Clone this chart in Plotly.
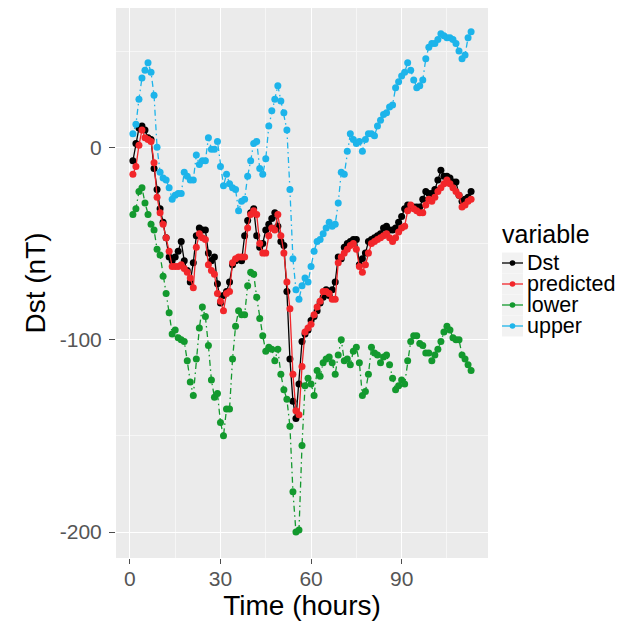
import plotly.graph_objects as go

hours = list(range(1, 114))

dst = [-7, 2, 10, 11, 9, 5, 4, -11, -22, -32,
       -39, -47, -57, -59, -57, -54, -49, -59, -64, -70,
       -60, -46, -42, -43, -43, -55, -59, -57, -71, -81,
       -77, -75, -70, -61, -59, -58, -59, -46, -38, -34,
       -32, -46, -52, -50, -43, -40, -37, -34, -41, -49,
       -51, -75, -110, -132, -141, -123, -101, -97, -95, -90,
       -88, -85, -81, -78, -74, -77, -74, -70, -57, -58,
       -52, -50, -49, -48, -48, -61, -58, -55, -49, -48,
       -47, -46, -45, -42, -41, -43, -43, -42, -39, -36,
       -32, -30, -31, -31, -31, -31, -27, -23, -24, -24,
       -22, -17, -12, -15, -15, -16, -18, -18, -25, -28,
       -27, -26, -23]

predicted = [-14, -10, 1, 9, 5, 4, 3, -8, -26, -34,
             -40, -47, -54, -62, -62, -62, -61, -63, -65, -68,
             -73, -52, -45, -47, -48, -61, -64, -66, -76, -80,
             -85, -76, -75, -60, -58, -57, -57, -57, -42, -35,
             -33, -35, -50, -55, -55, -46, -42, -43, -35, -46,
             -55, -70, -84, -118, -137, -139, -114, -96, -94, -92,
             -87, -83, -80, -75, -75, -76, -79, -79, -60, -57,
             -55, -53, -51, -50, -53, -62, -65, -61, -55, -50,
             -49, -48, -47, -46, -45, -47, -49, -47, -44, -42,
             -41, -33, -30, -32, -33, -34, -34, -30, -27, -28,
             -26, -23, -21, -19, -17, -19, -21, -23, -25, -31,
             -30, -28, -27]

lower = [-35, -32, -23, -21, -29, -35, -40, -43, -53, -56,
         -67, -76, -86, -97, -95, -99, -100, -101, -111, -122,
         -129, -110, -94, -83, -88, -103, -121, -130, -128, -143,
         -150, -136, -136, -110, -93, -85, -87, -87, -72, -65,
         -66, -78, -89, -98, -106, -104, -105, -111, -105, -118,
         -126, -131, -145, -179, -200, -199, -155, -124, -120, -123,
         -129, -116, -119, -112, -110, -109, -112, -118, -108, -100,
         -111, -110, -113, -106, -104, -112, -129, -127, -118, -104,
         -107, -108, -112, -109, -108, -113, -120, -126, -124, -121,
         -123, -111, -101, -98, -98, -102, -103, -107, -107, -111,
         -108, -105, -101, -96, -93, -95, -99, -100, -100, -108,
         -110, -113, -116]

upper = [7, 12, 25, 36, 40, 44, 39, 27, 0, -13,
         -16, -17, -21, -27, -25, -24, -24, -13, -15, -17,
         -17, -4, -9, -7, -7, 5, -1, -1, 3, -10,
         -20, -14, -19, -21, -22, -33, -28, -27, -15, -7,
         2, 3, -11, -14, -6, 11, 19, 25, 32, 24,
         18, 9, -22, -58, -74, -79, -72, -68, -70, -62,
         -54, -49, -48, -45, -42, -39, -41, -40, -29, -13,
         -14, -2, 7, 4, 2, 3, -2, 4, 7, 7,
         6, 11, 14, 17, 18, 21, 22, 31, 34, 37,
         39, 44, 40, 35, 31, 32, 35, 46, 52, 54,
         54, 56, 59, 58, 57, 57, 56, 54, 50, 46,
         48, 57, 60]

series_names = ["Dst", "predicted", "lower", "upper"]
series_values = [dst, predicted, lower, upper]
series_colors = ["#000000", "#F2262A", "#13992E", "#1DB4EA"]
series_dash = ["solid", "solid", "1.5px,3.5px,6px,3.5px", "1.5px,3.5px,6px,3.5px"]

x_ticks = [0, 30, 60, 90]
y_ticks = [-200, -100, 0]
legend_title = "variable"

# ---- layout geometry ----
# the page body has an 8px default margin, so the figure is drawn 8px in
PAGE_OFF = 8
W, H = 615, 621
ML, MT = 116 - PAGE_OFF, 8 - PAGE_OFF
PW, PH = 372, 550
MR, MB = W - ML - PW, H - MT - PH


def px_x(p):
    """screen pixel x -> paper coordinate"""
    return (p - PAGE_OFF - ML) / PW


def px_y(p):
    """screen pixel y -> paper coordinate"""
    return (MT + PH - (p - PAGE_OFF)) / PH


fig = go.Figure()
for name, vals, col, dash in zip(series_names, series_values, series_colors, series_dash):
    fig.add_trace(go.Scatter(
        x=hours, y=vals, name=name, mode="lines+markers",
        line=dict(color=col, width=1.3, dash=dash),
        marker=dict(color=col, size=7),
        showlegend=False,
    ))

font_family = "Liberation Sans, Arial, Helvetica, sans-serif"

# ---- ggplot-style legend ----
shapes = []
annotations = []
annotations.append(dict(
    text=legend_title, xref="paper", yref="paper",
    x=px_x(500), y=px_y(234), xanchor="left", yanchor="middle",
    showarrow=False, font=dict(size=25, color="#000000", family=font_family),
))
key_left, key_right = 502, 523
row_y0, row_step = 263, 21
for i, (name, col) in enumerate(zip(series_names, series_colors)):
    cy = row_y0 + i * row_step
    shapes.append(dict(type="rect", xref="paper", yref="paper",
                       x0=px_x(key_left), x1=px_x(key_right),
                       y0=px_y(cy - 10.5), y1=px_y(cy + 10.5),
                       fillcolor="#F2F2F2", line=dict(width=0), layer="below"))
    shapes.append(dict(type="line", xref="paper", yref="paper",
                       x0=px_x(key_left), x1=px_x(key_right),
                       y0=px_y(cy), y1=px_y(cy),
                       line=dict(color=col, width=1.3)))
    cx = (key_left + key_right) / 2
    r = 2.8
    shapes.append(dict(type="circle", xref="paper", yref="paper",
                       x0=px_x(cx - r), x1=px_x(cx + r),
                       y0=px_y(cy + r), y1=px_y(cy - r),
                       fillcolor=col, line=dict(color=col, width=0)))
    annotations.append(dict(
        text=name, xref="paper", yref="paper",
        x=px_x(525), y=px_y(cy), xanchor="left", yanchor="middle",
        showarrow=False, font=dict(size=21.5, color="#000000", family=font_family),
    ))

fig.update_layout(
    width=W, height=H,
    margin=dict(l=ML, r=MR, t=MT, b=MB, pad=0, autoexpand=False),
    paper_bgcolor="white",
    plot_bgcolor="#EBEBEB",
    font=dict(family=font_family, color="#000000"),
    showlegend=False,
    shapes=shapes,
    annotations=annotations,
)

fig.update_xaxes(
    range=[-4.6, 118.6], automargin=False,
    tickvals=x_ticks, ticktext=[str(v) for v in x_ticks],
    showgrid=True, gridcolor="#FFFFFF", gridwidth=1.3,
    minor=dict(dtick=15, tick0=0, showgrid=True, gridcolor="#F6F6F6", gridwidth=0.7),
    zeroline=False, showline=False,
    ticks="outside", ticklen=5, tickwidth=1, tickcolor="#4D4D4D",
    ticklabelstandoff=-3,
    tickfont=dict(size=21, color="#555555"),
    title=dict(text="Time (hours)", font=dict(size=28, color="#000000"), standoff=6),
)
fig.update_yaxes(
    range=[-213.5, 72.4], automargin=False,
    tickvals=y_ticks, ticktext=[str(v) for v in y_ticks],
    showgrid=True, gridcolor="#FFFFFF", gridwidth=1.3,
    minor=dict(dtick=50, tick0=0, showgrid=True, gridcolor="#F6F6F6", gridwidth=0.7),
    zeroline=False, showline=False,
    ticks="outside", ticklen=6, tickwidth=1, tickcolor="#4D4D4D",
    ticklabelstandoff=3,
    tickfont=dict(size=21, color="#555555"),
    title=dict(text="Dst (nT)", font=dict(size=28, color="#000000"), standoff=5),
)

fig.write_html("out.html")
